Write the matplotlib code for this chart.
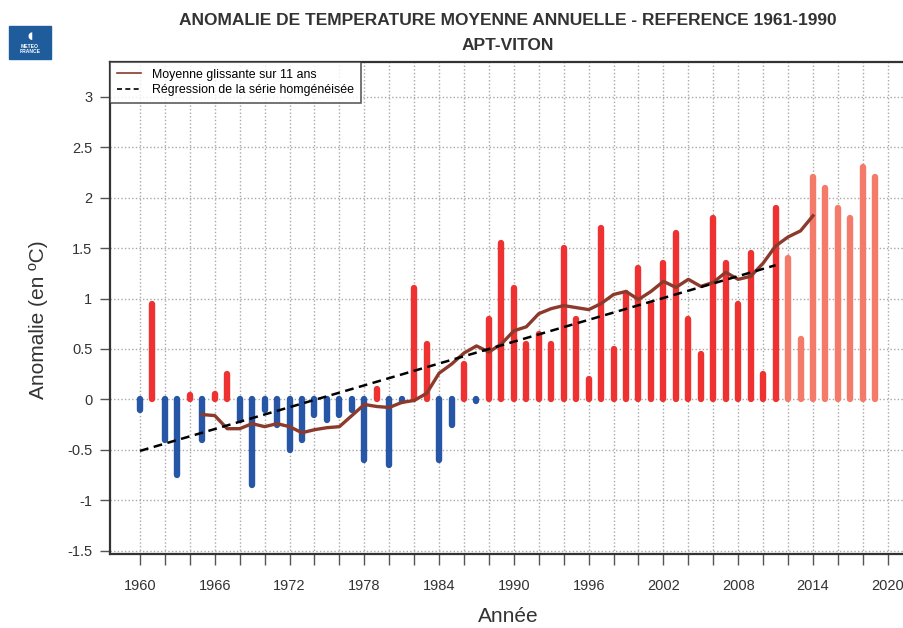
# Annual mean temperature anomaly at Apt-Viton, reference 1961-1990
import matplotlib.pyplot as plt
from matplotlib.patches import Rectangle

# Years and annual anomalies (deg C)
years = list(range(1960, 2020))
anomalies = [
    -0.10, 0.95, -0.40, -0.75, 0.04, -0.40, 0.05, 0.25, -0.20, -0.85,
    -0.10, -0.25, -0.50, -0.40, -0.15, -0.20, -0.15, -0.10, -0.60, 0.10,
    -0.65, -0.02, 1.10, 0.55, -0.60, -0.25, 0.35, -0.02, 0.80, 1.55,
    1.10, 0.55, 0.65, 0.55, 1.50, 0.80, 0.20, 1.70, 0.50, 1.05,
    1.30, 0.95, 1.35, 1.65, 0.80, 0.45, 1.80, 1.35, 0.95, 1.45,
    0.25, 1.90, 1.40, 0.60, 2.20, 2.10, 1.90, 1.80, 2.30, 2.20,
]
# years after this one are not part of the homogenised series (lighter bars)
last_homog_year = 2011

# 11-year running mean
ma_years = list(range(1965, 2015))
ma_values = [
    -0.15, -0.16, -0.29, -0.29, -0.24, -0.27, -0.24, -0.27, -0.33, -0.30,
    -0.28, -0.27, -0.16, -0.05, -0.07, -0.08, -0.03, -0.01, 0.06, 0.26,
    0.35, 0.46, 0.53, 0.47, 0.55, 0.68, 0.72, 0.85, 0.90, 0.93,
    0.91, 0.89, 0.95, 1.04, 1.07, 0.99, 1.07, 1.17, 1.11, 1.19,
    1.12, 1.16, 1.26, 1.19, 1.22, 1.35, 1.52, 1.61, 1.67, 1.82,
]

# Linear regression of the homogenised series (end points)
reg_years = [1960, 2011]
reg_values = [-0.51, 1.33]

x_ticks = list(range(1960, 2021, 2))
x_labels = [str(y) if (y - 1960) % 6 == 0 else '' for y in x_ticks]
y_ticks = [-1.5, -1, -0.5, 0, 0.5, 1, 1.5, 2, 2.5, 3]
y_labels = ['-1.5', '-1', '-0.5', '0', '0.5', '1', '1.5', '2', '2.5', '3']

BLUE = '#2756a6'
RED = '#ee3232'
SALMON = '#f47b69'
BROWN = '#8b3a2c'

plt.rcParams['font.family'] = ['Liberation Sans', 'DejaVu Sans']

fig = plt.figure(figsize=(9.04, 6.28), dpi=100)
ax = fig.add_axes([0.1222, 0.1178, 0.8805, 0.7835])

# Bars drawn as thick lines with rounded ends
for year, value in zip(years, anomalies):
    if year > last_homog_year:
        color = SALMON
    elif value >= 0:
        color = RED
    else:
        color = BLUE
    ax.plot([year, year], [0, value], color=color, linewidth=4.6,
            solid_capstyle='round', zorder=3)

# Running mean and regression
ax.plot(ma_years, ma_values, color=BROWN, linewidth=2.4, zorder=4,
        label='Moyenne glissante sur 11 ans')
ax.plot(reg_years, reg_values, color='black', linewidth=1.8,
        linestyle=(0, (3.5, 2.2)), zorder=5,
        label='Régression de la série homgénéisée')

# Axes limits and ticks
ax.set_xlim(1957.63, 2021.5)
ax.set_ylim(-1.532, 3.344)
ax.set_xticks(x_ticks)
ax.set_xticklabels(x_labels)
ax.set_yticks(y_ticks)
ax.set_yticklabels(y_labels)
ax.tick_params(axis='x', length=8, width=1, color='#555555', pad=10,
               labelsize=10.5, labelcolor='#333333')
ax.tick_params(axis='y', length=7, width=1, color='#555555', pad=6,
               labelsize=10.5, labelcolor='#333333')

# Dotted grid
ax.grid(True, color='#a8a8a8', linestyle=(0, (1, 1.6)), linewidth=1)
ax.set_axisbelow(True)

for side in ['left', 'bottom', 'top']:
    ax.spines[side].set_color('#333333')
    ax.spines[side].set_linewidth(1.6)
ax.spines['right'].set_visible(False)

# Labels
ax.set_xlabel('Année', fontsize=15, color='#333333')
ax.xaxis.set_label_coords(0.5, -0.108)
ax.set_ylabel('Anomalie (en ºC)', fontsize=15, color='#333333')
ax.yaxis.set_label_coords(-0.078, 0.476)

# Title
fig.text(0.562, 0.968, 'ANOMALIE DE TEMPERATURE MOYENNE ANNUELLE - REFERENCE 1961-1990',
         ha='center', va='center', fontsize=12.5, fontweight='bold',
         family=['Liberation Sans Narrow', 'Liberation Sans'], color='#333333')
fig.text(0.562, 0.928, 'APT-VITON', ha='center', va='center', fontsize=12.5,
         fontweight='bold', family=['Liberation Sans Narrow', 'Liberation Sans'],
         color='#333333')

# Legend in the upper left corner
leg = ax.legend(loc='upper left', bbox_to_anchor=(0, 1), fontsize=8.9,
                frameon=True, fancybox=False, edgecolor='#333333',
                borderaxespad=0, handlelength=1.9, handletextpad=0.95,
                borderpad=0.55, labelspacing=0.3)
leg.get_frame().set_linewidth(1.2)
leg.get_lines()[0].set_linewidth(1.2)
leg.get_lines()[1].set_linewidth(1.2)
leg.get_lines()[1].set_linestyle((0, (3, 2)))

# Meteo-France logo
fig.patches.append(Rectangle((9 / 904, 1 - 59 / 628), 42 / 904, 33 / 628,
                             transform=fig.transFigure, color='#1f5c9c'))
fig.text(30 / 904, 1 - 36 / 628, '◖', ha='center', va='center', fontsize=7,
         color='white', family='DejaVu Sans')
fig.text(30 / 904, 1 - 49 / 628, 'METEO\nFRANCE', ha='center', va='center',
         fontsize=3.6, color='white', fontweight='bold', linespacing=1.0)

fig.savefig('out.png', dpi=100)
